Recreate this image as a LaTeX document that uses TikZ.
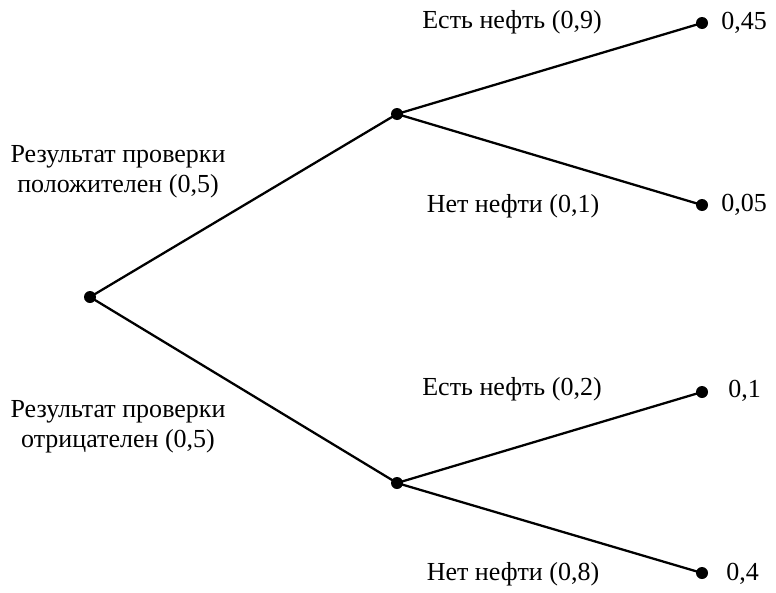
\documentclass[tikz,border=0pt]{standalone}
\usepackage{fontspec}
\setmainfont{Liberation Serif}

\begin{document}
\begin{tikzpicture}[x=0.02cm, y=-0.02cm,
    dot/.style={circle, fill=black, inner sep=0pt, minimum size=0.24cm},
    edge/.style={line width=1.3pt, -},
    lbl/.style={font=\fontsize{14.8}{17}\selectfont, inner sep=0pt, align=center}
]
    \useasboundingbox (0,0) rectangle (776,592);
    \node[dot] (root) at (90,297) {};
    \node[dot] (pos) at (397,114) {};
    \node[dot] (neg) at (397,483) {};
    \node[dot] (posoil) at (702,23) {};
    \node[dot] (posdry) at (702,205) {};
    \node[dot] (negoil) at (702,392) {};
    \node[dot] (negdry) at (702,573) {};
    \draw[edge] (root.center) -- (pos.center);
    \draw[edge] (root.center) -- (neg.center);
    \draw[edge] (pos.center) -- (posoil.center);
    \draw[edge] (pos.center) -- (posdry.center);
    \draw[edge] (neg.center) -- (negoil.center);
    \draw[edge] (neg.center) -- (negdry.center);
    % branch labels
    \node[lbl] (tpos) at (118,172) {Результат проверки\\положителен (0,5)};
    \node[lbl] (tneg) at (118,427) {Результат проверки\\отрицателен (0,5)};
    \node[lbl] (tposoil) at (512,22) {Есть нефть (0,9)};
    \node[lbl] (tposdry) at (513,206) {Нет нефти (0,1)};
    \node[lbl] (tnegoil) at (512,389) {Есть нефть (0,2)};
    \node[lbl] (tnegdry) at (513,574) {Нет нефти (0,8)};
    % outcomes
    \node[lbl, anchor=west] (vposoil) at (721,23) {0,45};
    \node[lbl, anchor=west] (vposdry) at (721,205) {0,05};
    \node[lbl, anchor=west] (vnegoil) at (728,391) {0,1};
    \node[lbl, anchor=west] (vnegdry) at (726,574) {0,4};
\end{tikzpicture}
\end{document}
